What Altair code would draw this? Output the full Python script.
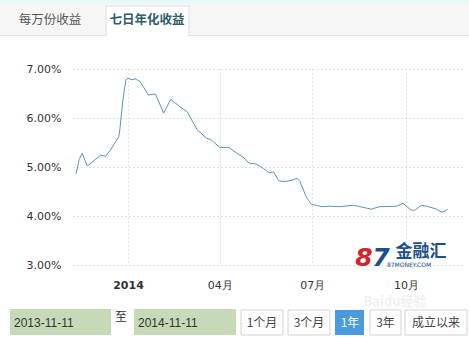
import altair as alt
import pandas as pd

dates = ["2013-11-11","2013-11-14","2013-11-17","2013-11-22","2013-11-28","2013-12-05","2013-12-10",
         "2013-12-15","2013-12-19","2013-12-23","2013-12-24","2013-12-27","2013-12-30","2014-01-01",
         "2014-01-05","2014-01-08","2014-01-13","2014-01-21","2014-01-28","2014-02-05","2014-02-12",
         "2014-02-21","2014-02-28","2014-03-10","2014-03-19","2014-03-24","2014-04-01","2014-04-10",
         "2014-04-18","2014-04-24","2014-04-30","2014-05-07","2014-05-14","2014-05-20","2014-05-24",
         "2014-05-29","2014-06-04","2014-06-11","2014-06-16","2014-06-19","2014-06-25","2014-06-30",
         "2014-07-05","2014-07-10","2014-07-18","2014-07-28","2014-08-10","2014-08-28","2014-09-05",
         "2014-09-22","2014-09-28","2014-10-06","2014-10-10","2014-10-16","2014-10-23","2014-10-31",
         "2014-11-05","2014-11-09","2014-11-11"]
yields = [4.86, 5.15, 5.28, 5.02, 5.12, 5.24, 5.22,
          5.35, 5.49, 5.62, 5.76, 6.37, 6.78, 6.81,
          6.78, 6.80, 6.74, 6.47, 6.49, 6.10, 6.38,
          6.23, 6.13, 5.76, 5.59, 5.55, 5.40, 5.40,
          5.28, 5.20, 5.08, 5.06, 4.97, 4.88, 4.90,
          4.72, 4.70, 4.73, 4.77, 4.70, 4.39, 4.24,
          4.22, 4.19, 4.20, 4.19, 4.22, 4.14, 4.19,
          4.20, 4.26, 4.12, 4.12, 4.22, 4.19, 4.14,
          4.08, 4.11, 4.14]

y_ticks = [3, 4, 5, 6, 7]
tabs = ["每万份收益", "七日年化收益"]
start_label, end_label = "2013-11-11", "2014-11-11"
buttons = ["1个月", "3个月", "1年", "3年", "成立以来"]

df = pd.DataFrame({"date": dates, "yield": yields})

# plot origin in page pixels
OX, OY = 73, 69
W, H = 389, 196

x_vals = [alt.DateTime(year=2014, month=m, date=1, utc=True) for m in (1, 4, 7, 10)]

line = alt.Chart(df).mark_line(color="#5a98b4", strokeWidth=1).encode(
    x=alt.X("date:T",
            scale=alt.Scale(type="utc",
                            domain=[alt.DateTime(year=2013, month=11, date=8, utc=True),
                                    alt.DateTime(year=2014, month=11, date=25, utc=True)]),
            axis=alt.Axis(values=x_vals, title=None, domain=False, ticks=False,
                          labelExpr="utcFormat(datum.value, '%m') == '01' ? utcFormat(datum.value, '%Y') : utcFormat(datum.value, '%m') + '月'",
                          labelFontWeight={"condition": {"test": "utcFormat(datum.value, '%m') == '01'", "value": "bold"}, "value": "normal"},
                          labelPadding=14, labelFontSize=11, labelColor="#333333",
                          labelFont="DejaVu Sans",
                          grid=True, gridDash=[1, 3], gridColor="#c4c4c4")),
    y=alt.Y("yield:Q", scale=alt.Scale(domain=[3, 7], zero=False),
            axis=alt.Axis(values=y_ticks, title=None, domain=False, ticks=False,
                          labelExpr="format(datum.value, '.2f') + '%'",
                          labelPadding=12, labelFontSize=11, labelColor="#333333",
                          labelFont="DejaVu Sans",
                          grid=True, gridDash=[1, 3], gridColor="#c4c4c4")),
)

one = pd.DataFrame({"a": [0]})
base = alt.Chart(one)


def rect(x1, y1, x2, y2, fill, stroke=None, sw=1):
    kw = dict(fill=fill)
    if stroke:
        kw.update(stroke=stroke, strokeWidth=sw)
    else:
        kw.update(strokeWidth=0)
    return base.mark_rect(**kw).encode(
        x=alt.value(x1 - OX), x2=alt.value(x2 - OX),
        y=alt.value(y1 - OY), y2=alt.value(y2 - OY))


def text(t, x, y, size=12, color="#333333", weight="normal", align="center",
         font="Noto Sans CJK SC", style="normal"):
    return base.mark_text(text=t, fontSize=size, color=color, fontWeight=weight,
                          fontStyle=style, align=align, baseline="middle",
                          font=font).encode(
        x=alt.value(x - OX), y=alt.value(y - OY))


layers = [
    # tab bar
    rect(0, 0, 469, 3, "#e4fafa"),
    rect(0, 3, 469, 35, "#f6f6f6"),
    rect(0, 35, 469, 36, "#e2e2e2"),
    rect(106, 6, 189, 36.5, "#ffffff", "#dedede"),
    rect(106.5, 35, 188.5, 37, "#ffffff"),
    text(tabs[0], 50, 20, size=12.5, color="#555555"),
    text(tabs[1], 147, 20, size=12.5, color="#2d5c6b", weight="bold"),
    # faint watermark
    text("Baidu经验", 395, 302, size=13, color="#f1f1f1", weight="bold"),
    # date range boxes
    rect(10, 309, 111, 335, "#c6dab8"),
    rect(134, 309, 236, 335, "#c6dab8"),
    text(start_label, 14, 323, size=12, align="left", font="Liberation Sans"),
    text(end_label, 138, 323, size=12, align="left", font="Liberation Sans"),
    text("至", 121, 317, size=12),
    # buttons
    rect(241, 310, 283, 335, "#ffffff", "#d4d4d4"),
    rect(288, 310, 330, 335, "#ffffff", "#d4d4d4"),
    rect(335, 310, 364, 335, "#4a9ae0"),
    rect(370, 310, 401, 335, "#ffffff", "#d4d4d4"),
    rect(405, 310, 467, 335, "#ffffff", "#d4d4d4"),
    text(buttons[0], 262, 323, size=12, color="#444444"),
    text(buttons[1], 309, 323, size=12, color="#444444"),
    text(buttons[2], 350, 323, size=12, color="#ffffff"),
    text(buttons[3], 385.5, 323, size=12, color="#444444"),
    text(buttons[4], 436, 323, size=12, color="#444444"),
    # logo watermark
    text("8", 364, 258, size=25, color="#d3262c", weight="bold", font="DejaVu Sans", style="italic"),
    text("7", 381, 258, size=25, color="#1d4f8c", weight="bold", font="DejaVu Sans", style="italic"),
    text("金融汇", 421, 252, size=17, color="#1d4f8c", weight="bold"),
    text("87MONEY.COM", 409, 265, size=6, color="#1d4f8c", font="DejaVu Sans"),
]

chart = alt.layer(line, *layers).properties(
    width=W, height=H,
    autosize=alt.AutoSizeParams(type="none"),
    padding={"left": OX, "top": OY, "right": 469 - OX - W, "bottom": 338 - OY - H},
    background="#ffffff",
).configure_view(stroke=None)

chart.save("out.html", embed_options={"renderer": "svg", "actions": False})
